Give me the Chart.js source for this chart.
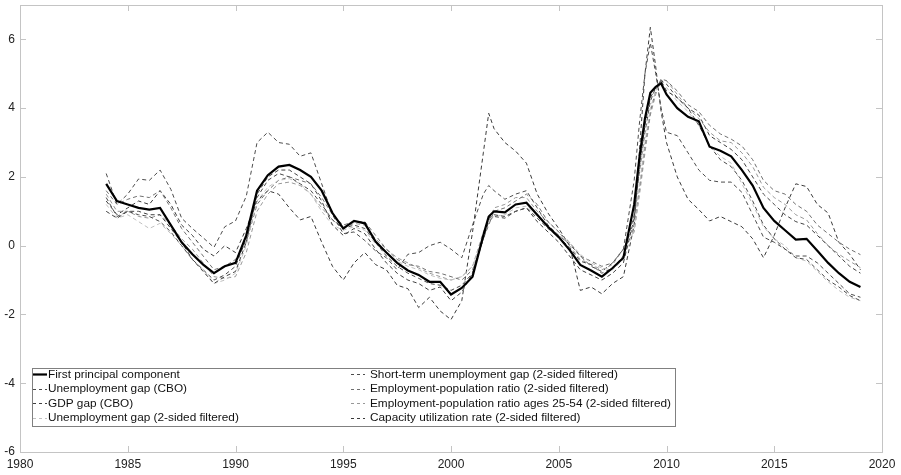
<!DOCTYPE html>
<html>
<head>
<meta charset="utf-8">
<script src="https://cdn.jsdelivr.net/npm/chart.js@4.4.1/dist/chart.umd.min.js"></script>
<style>
    html, body { margin: 0; padding: 0; background: #fff; }
    #wrap { position: relative; width: 901px; height: 475px; }
</style>
</head>
<body>
<div id="wrap"><canvas id="slackChart"></canvas></div>
<script>
/* ─── Dates (half-yearly, quarterly around the 2009 peak) ─────── */
const dates = [
    1984.0, 1984.5, 1985.0, 1985.5, 1986.0, 1986.5, 1987.0, 1987.5, 1988.0, 1988.5,
    1989.0, 1989.5, 1990.0, 1990.5, 1991.0, 1991.5, 1992.0, 1992.5, 1993.0, 1993.5,
    1994.0, 1994.5, 1995.0, 1995.5, 1996.0, 1996.5, 1997.0, 1997.5, 1998.0, 1998.5,
    1999.0, 1999.5, 2000.0, 2000.5, 2001.0, 2001.5, 2001.75, 2002.0, 2002.5, 2003.0, 2003.5,
    2004.0, 2004.5, 2005.0, 2005.5, 2006.0, 2006.5, 2007.0, 2007.5, 2008.0, 2008.5,
    2008.75, 2009.0, 2009.25, 2009.5, 2009.75, 2010.0, 2010.5,
    2011.0, 2011.5, 2012.0, 2012.5, 2013.0, 2013.5, 2014.0, 2014.5, 2015.0, 2015.5,
    2016.0, 2016.5, 2017.0, 2017.5, 2018.0, 2018.5, 2019.0
];

/* ─── Series (same row layout as dates) ───────────────────────── */
const firstPC = [
    1.8, 1.3, 1.2, 1.1, 1.05, 1.1, 0.6, 0.1, -0.25, -0.55,
    -0.8, -0.6, -0.5, 0.3, 1.6, 2.05, 2.3, 2.35, 2.2, 2.0,
    1.6, 0.95, 0.5, 0.72, 0.65, 0.12, -0.2, -0.5, -0.72, -0.85,
    -1.05, -1.05, -1.42, -1.23, -0.9, 0.3, 0.85, 1.0, 0.97, 1.2, 1.25,
    0.9, 0.55, 0.25, -0.12, -0.56, -0.72, -0.9, -0.65, -0.35, 1.2,
    2.6, 3.7, 4.45, 4.62, 4.72, 4.4, 4.0,
    3.75, 3.62, 2.88, 2.76, 2.6, 2.2, 1.75, 1.1, 0.72, 0.45,
    0.18, 0.2, -0.15, -0.5, -0.8, -1.05, -1.2
];
const unempGapCBO = [
    1.4, 0.85, 1.0, 0.9, 0.85, 0.7, 0.4, 0.0, -0.4, -0.7,
    -1.0, -0.85, -0.6, 0.2, 1.4, 1.9, 2.1, 2.0, 1.8, 1.6,
    1.2, 0.75, 0.5, 0.6, 0.5, 0.1, -0.3, -0.6, -0.8, -0.95,
    -1.1, -1.15, -1.3, -1.15, -0.8, 0.2, 0.7, 0.85, 0.8, 1.0, 1.1,
    0.8, 0.5, 0.25, -0.05, -0.45, -0.55, -0.8, -0.65, -0.3, 0.9,
    2.2, 3.3, 4.2, 4.6, 4.8, 4.7, 4.3,
    4.0, 3.5, 2.9, 2.5, 2.3, 1.9, 1.3, 0.6, 0.2, -0.1,
    -0.35, -0.4, -0.7, -1.0, -1.2, -1.45, -1.6
];
const gdpGapCBO = [
    1.0, 0.8, 1.0, 1.0, 0.9, 0.9, 0.5, 0.1, -0.4, -0.75,
    -1.1, -0.9, -0.75, 0.1, 1.5, 2.0, 2.2, 2.2, 2.0, 1.8,
    1.3, 0.6, 0.3, 0.5, 0.35, -0.1, -0.5, -0.8, -1.0, -1.1,
    -1.3, -1.2, -1.6, -1.35, -0.8, 0.2, 0.8, 0.9, 0.85, 1.0, 1.1,
    0.7, 0.4, 0.1, -0.3, -0.7, -0.85, -1.0, -0.8, -0.5, 0.8,
    2.3, 3.5, 4.3, 4.6, 4.8, 4.5, 4.3,
    4.0, 3.8, 3.2, 3.0, 2.8, 2.5, 2.0, 1.5, 1.2, 0.9,
    0.7, 0.6, 0.3, 0.0, -0.3, -0.6, -0.8
];
const unempGap2s = [
    1.2, 0.8, 0.9, 0.7, 0.5, 0.65, 0.35, 0.0, -0.4, -0.7,
    -1.1, -1.0, -0.8, 0.0, 1.3, 1.7, 1.9, 1.95, 1.8, 1.5,
    1.0, 0.6, 0.45, 0.55, 0.45, 0.05, -0.2, -0.45, -0.6, -0.7,
    -0.85, -0.95, -1.0, -0.9, -0.6, 0.3, 0.75, 0.85, 0.9, 1.1, 1.15,
    0.85, 0.55, 0.3, 0.1, -0.25, -0.5, -0.65, -0.7, -0.4, 0.5,
    1.8, 3.0, 4.0, 4.5, 4.7, 4.6, 4.2,
    3.9, 3.5, 2.9, 2.6, 2.4, 1.8, 1.2, 0.55, 0.2, 0.0,
    -0.35, -0.45, -0.75, -1.05, -1.3, -1.5, -1.6
];
const shortTermGap = [
    2.1, 1.2, 1.5, 1.94, 1.9, 2.2, 1.64, 0.8, 0.5, 0.23,
    -0.05, 0.55, 0.72, 1.44, 3.0, 3.3, 3.0, 2.95, 2.6, 2.7,
    1.8, 0.9, 0.35, 0.4, 0.15, -0.15, -0.35, -0.7, -0.25, -0.2,
    0.0, 0.1, -0.1, -0.35, 0.6, 1.5, 1.75, 1.6, 1.35, 1.5, 1.6,
    1.1, 0.6, 0.3, 0.05, -0.3, -0.6, -0.75, -0.5, -0.1, 1.9,
    3.6, 5.0, 5.9, 5.0, 4.0, 3.3, 3.2,
    2.7, 2.2, 1.9, 1.85, 1.85, 1.55, 0.9, 0.25, 0.1, -0.1,
    -0.3, -0.3, -0.5, -0.8, -1.1, -1.4, -1.5
];
const empPopRatio = [
    1.6, 1.2, 1.35, 1.45, 1.4, 1.6, 1.1, 0.5, 0.1, -0.3,
    -0.7, -0.6, -0.4, 0.1, 1.2, 1.6, 1.9, 2.0, 1.9, 1.8,
    1.4, 0.9, 0.6, 0.7, 0.7, 0.3, -0.1, -0.4, -0.55, -0.6,
    -0.75, -0.8, -0.9, -1.0, -0.7, 0.2, 0.6, 1.0, 1.1, 1.3, 1.5,
    1.2, 0.7, 0.4, 0.1, -0.3, -0.45, -0.6, -0.5, -0.1, 0.6,
    1.7, 2.9, 3.9, 4.5, 4.85, 4.8, 4.5,
    4.1, 3.9, 3.5, 3.25, 3.1, 2.9, 2.5, 1.9, 1.6, 1.5,
    1.2, 1.0, 0.6, 0.35, 0.1, -0.1, -0.26
];
const empPopPrime = [
    1.5, 1.0, 1.0, 0.85, 0.8, 0.9, 0.6, 0.2, -0.1, -0.5,
    -0.9, -0.95, -0.9, -0.2, 1.0, 1.5, 1.8, 1.85, 1.75, 1.5,
    1.1, 0.75, 0.5, 0.65, 0.6, 0.2, -0.1, -0.35, -0.5, -0.65,
    -0.8, -0.9, -1.0, -0.9, -0.6, 0.4, 0.7, 1.1, 1.2, 1.4, 1.4,
    1.0, 0.7, 0.4, 0.0, -0.4, -0.55, -0.7, -0.55, -0.1, 0.4,
    1.5, 2.7, 3.8, 4.4, 4.8, 4.8, 4.4,
    4.0, 3.7, 3.3, 3.05, 3.0, 2.7, 2.3, 1.7, 1.4, 1.2,
    0.9, 0.75, 0.35, 0.0, -0.25, -0.45, -0.64
];
const capacityUtil = [
    1.3, 0.9, 1.1, 1.3, 1.2, 1.6, 1.2, 0.6, 0.3, -0.1,
    -0.3, 0.0, -0.2, 0.5, 1.3, 1.6, 1.5, 1.1, 0.75, 0.85,
    0.1, -0.6, -1.0, -0.5, -0.2, -0.55, -0.7, -1.15, -1.25, -1.8,
    -1.5, -1.9, -2.15, -1.6, 0.4, 2.7, 3.85, 3.4, 3.0, 2.75, 2.4,
    1.5, 0.95, 0.5, 0.0, -1.3, -1.2, -1.4, -1.1, -0.9, 0.6,
    2.8, 5.0, 6.35, 5.2, 3.9, 3.0, 2.0,
    1.35, 1.05, 0.72, 0.85, 0.7, 0.55, 0.2, -0.35, 0.3, 1.1,
    1.8, 1.72, 1.2, 0.95, 0.1, -0.25, -0.7
];

const xTicks = [1980, 1985, 1990, 1995, 2000, 2005, 2010, 2015, 2020];
const yTicks = [-6, -4, -2, 0, 2, 4, 6];

/* ─── Dataset styles ──────────────────────────────────────────── */
const DASH = [4, 3];
function line(label, values, color, width, dash) {
    return {
        label,
        data: values.map((v, i) => ({ x: dates[i], y: v })),
        borderColor: color,
        borderWidth: width,
        borderDash: dash,
        pointRadius: 0,
        tension: 0,
        fill: false,
    };
}

// first dataset is drawn on top, so the principal component goes first
const datasets = [
    line('First principal component', firstPC, '#000000', 2.2, []),
    line('Unemployment gap (CBO)', unempGapCBO, '#4a4a4a', 1, DASH),
    line('GDP gap (CBO)', gdpGapCBO, '#404040', 1, DASH),
    line('Unemployment gap (2-sided filtered)', unempGap2s, '#c0c0c0', 1, DASH),
    line('Short-term unemployment gap (2-sided filtered)', shortTermGap, '#4c4c4c', 1, DASH),
    line('Employment-population ratio (2-sided filtered)', empPopRatio, '#707070', 1, DASH),
    line('Employment-population ratio ages 25-54 (2-sided filtered)', empPopPrime, '#989898', 1, DASH),
    line('Capacity utilization rate (2-sided filtered)', capacityUtil, '#3a3a3a', 1, DASH),
];

/* ─── Axes box with inward tick marks ─────────────────────────── */
const frame = {
    id: 'frame',
    beforeDatasetsDraw(chart) {
        const { ctx, chartArea: a, scales } = chart;
        const L = 6;
        ctx.save();
        ctx.strokeStyle = '#c4c4c4';
        ctx.lineWidth = 1;
        ctx.beginPath();
        xTicks.slice(1, -1).forEach(v => {
            const px = Math.round(scales.x.getPixelForValue(v)) + 0.5;
            ctx.moveTo(px, a.bottom); ctx.lineTo(px, a.bottom - L);
            ctx.moveTo(px, a.top);    ctx.lineTo(px, a.top + L);
        });
        yTicks.slice(1).forEach(v => {
            const py = Math.round(scales.y.getPixelForValue(v)) + 0.5;
            ctx.moveTo(a.left, py);  ctx.lineTo(a.left + L, py);
            ctx.moveTo(a.right, py); ctx.lineTo(a.right - L, py);
        });
        ctx.stroke();
        ctx.strokeRect(Math.round(a.left) + 0.5, Math.round(a.top) + 0.5,
                       Math.round(a.right - a.left), Math.round(a.bottom - a.top));
        ctx.restore();
    }
};

/* ─── Two-column legend inside the plot ───────────────────────── */
const boxLegend = {
    id: 'boxLegend',
    afterDraw(chart) {
        const { ctx } = chart;
        const box = { x: 32.5, y: 368.5, w: 643, h: 58 };
        const rowY = [374, 388.5, 403, 417.5];
        const cols = [{ sx: 33, tx: 48 }, { sx: 351, tx: 370 }];
        ctx.save();
        ctx.fillStyle = '#ffffff';
        ctx.fillRect(box.x, box.y, box.w, box.h);
        ctx.strokeStyle = '#808080';
        ctx.lineWidth = 1;
        ctx.strokeRect(box.x, box.y, box.w, box.h);

        ctx.font = '11.8px "Liberation Sans", Arial, sans-serif';
        ctx.textBaseline = 'middle';
        chart.data.datasets.forEach((ds, i) => {
            const col = cols[Math.floor(i / 4)];
            const y = Math.round(rowY[i % 4]) + 0.5;
            ctx.strokeStyle = ds.borderColor;
            ctx.lineWidth = ds.borderWidth;
            ctx.setLineDash(ds.borderDash.length ? [3, 3] : []);
            ctx.beginPath();
            ctx.moveTo(col.sx, y);
            ctx.lineTo(col.sx + 14, y);
            ctx.stroke();
            ctx.setLineDash([]);
            ctx.fillStyle = '#111111';
            ctx.fillText(ds.label, col.tx, rowY[i % 4] + 0.5);
        });
        ctx.restore();
    }
};

Chart.defaults.font.family = '"Liberation Sans", Arial, sans-serif';
Chart.defaults.font.size = 12;
Chart.defaults.color = '#222222';

new Chart(document.getElementById('slackChart'), {
    type: 'line',
    data: { datasets },
    options: {
        responsive: true,
        maintainAspectRatio: false,
        animation: false,
        layout: { padding: { top: 5, right: 19, left: 0, bottom: 0 } },
        plugins: { legend: { display: false }, tooltip: { enabled: false } },
        scales: {
            x: {
                type: 'linear',
                min: 1980,
                max: 2020,
                afterBuildTicks: s => { s.ticks = xTicks.map(v => ({ value: v })); },
                afterFit: s => { s.height = 23; s.paddingLeft = 0; s.paddingRight = 0; },
                ticks: { padding: 5, maxRotation: 0, autoSkip: false, callback: v => String(v) },
                grid: { display: false, drawTicks: false },
                border: { display: false },
            },
            y: {
                min: -6,
                max: 7,
                afterBuildTicks: s => { s.ticks = yTicks.map(v => ({ value: v })); },
                // labels may overhang the plot edges, keep the area fixed
                afterFit: s => { s.width = 20; s.paddingTop = 0; s.paddingBottom = 0; },
                ticks: { padding: 5, autoSkip: false },
                grid: { display: false, drawTicks: false },
                border: { display: false },
            },
        },
    },
    plugins: [frame, boxLegend],
});
</script>
</body>
</html>
